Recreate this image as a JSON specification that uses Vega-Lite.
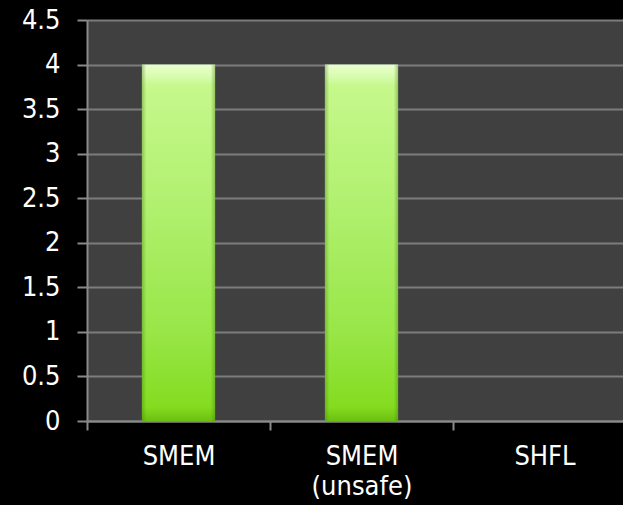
{
  "$schema": "https://vega.github.io/schema/vega-lite/v6.json",
  "width": 549,
  "height": 401,
  "autosize": {"type": "none"},
  "padding": {"left": 87, "top": 20, "right": 0, "bottom": 84},
  "background": "#000000",
  "config": {
    "view": {"fill": "#404040", "stroke": null},
    "font": "DejaVu Sans Condensed",
    "axis": {
      "labelColor": "#ffffff",
      "labelFont": "DejaVu Sans Condensed",
      "labelFontSize": 27,
      "domainColor": "#8a8a8a",
      "domainWidth": 2,
      "tickColor": "#8a8a8a",
      "tickWidth": 2,
      "gridColor": "#7c7c7c",
      "gridWidth": 2
    }
  },
  "data": {
    "values": [
      {"method": "SMEM", "value": 4},
      {"method": "SMEM (unsafe)", "value": 4},
      {"method": "SHFL", "value": 0}
    ]
  },
  "encoding": {
    "x": {
      "field": "method",
      "type": "nominal",
      "sort": null,
      "scale": {"paddingInner": 0.6, "paddingOuter": 0.3},
      "axis": {
        "title": null,
        "labelAngle": 0,
        "tickSize": 9,
        "tickOffset": -91.5,
        "labelOffset": 91.5,
        "labelPadding": 13,
        "labelLineHeight": 30,
        "labelExpr": "split(datum.label, ' ')",
        "grid": false
      }
    },
    "y": {
      "field": "value",
      "type": "quantitative",
      "scale": {"domain": [0, 4.5], "nice": false},
      "axis": {
        "title": null,
        "values": [0, 0.5, 1, 1.5, 2, 2.5, 3, 3.5, 4, 4.5],
        "format": "~g",
        "tickSize": 10,
        "labelPadding": 17,
        "grid": true
      }
    }
  },
  "layer": [
    {
      "mark": {
        "type": "bar",
        "color": {
          "gradient": "linear",
          "x1": 0, "y1": 0, "x2": 0, "y2": 1,
          "stops": [
            {"offset": 0, "color": "#eaffd0"},
            {"offset": 0.035, "color": "#d6fcac"},
            {"offset": 0.06, "color": "#c6f88c"},
            {"offset": 0.4, "color": "#b0f06e"},
            {"offset": 0.75, "color": "#98e648"},
            {"offset": 0.96, "color": "#84dc20"},
            {"offset": 1, "color": "#6cc010"}
          ]
        }
      }
    },
    {
      "mark": {
        "type": "bar",
        "color": {
          "gradient": "linear",
          "x1": 0, "y1": 0, "x2": 1, "y2": 0,
          "stops": [
            {"offset": 0, "color": "rgba(70,120,20,0.4)"},
            {"offset": 0.06, "color": "rgba(70,120,20,0)"},
            {"offset": 0.94, "color": "rgba(70,120,20,0)"},
            {"offset": 1, "color": "rgba(70,120,20,0.4)"}
          ]
        }
      }
    }
  ]
}
